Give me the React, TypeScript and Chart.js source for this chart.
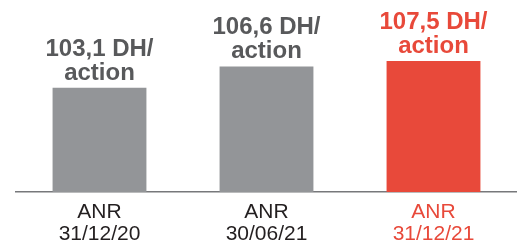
import React, { useEffect, useRef } from "react";
import { Chart, registerables } from "chart.js";

Chart.register(...registerables);

const categoryLines: string[][] = [
  ["ANR", "31/12/20"],
  ["ANR", "30/06/21"],
  ["ANR", "31/12/21"],
];
const values: number[] = [103.1, 106.6, 107.5];
const valueLabels: string[][] = [
  ["103,1 DH/", "action"],
  ["106,6 DH/", "action"],
  ["107,5 DH/", "action"],
];
const barColors: string[] = ["#939598", "#939598", "#e8493a"];
const labelColors: string[] = ["#58595b", "#58595b", "#e8493a"];
const tickColors: string[] = ["#231f20", "#231f20", "#e8493a"];

const FONT = "'Liberation Sans', Arial, Helvetica, sans-serif";

const valueLabelPlugin = {
  id: "valueLabels",
  afterDatasetsDraw(chart: any) {
    const ctx = chart.ctx;
    const meta = chart.getDatasetMeta(0);
    ctx.save();
    ctx.font = `bold 24px ${FONT}`;
    ctx.textAlign = "center";
    ctx.textBaseline = "alphabetic";
    meta.data.forEach((bar: any, i: number) => {
      ctx.fillStyle = labelColors[i];
      const lines = valueLabels[i];
      ctx.fillText(lines[0], bar.x, bar.y - 32);
      ctx.fillText(lines[1], bar.x, bar.y - 8);
    });
    ctx.restore();
  },
};

export default function App() {
  const canvasRef = useRef<HTMLCanvasElement | null>(null);

  useEffect(() => {
    if (!canvasRef.current) return;
    const chart = new Chart(canvasRef.current, {
      type: "bar",
      data: {
        labels: categoryLines,
        datasets: [
          {
            data: values,
            backgroundColor: barColors,
            borderWidth: 0,
            barPercentage: 0.562,
            categoryPercentage: 1,
          },
        ],
      },
      options: {
        animation: false,
        responsive: true,
        maintainAspectRatio: false,
        layout: { padding: { left: 16, right: 0, top: 0, bottom: 0 } },
        plugins: {
          legend: { display: false },
          tooltip: { enabled: false },
        },
        scales: {
          x: {
            grid: { display: false, drawTicks: false },
            border: { display: true, color: "#77787b", width: 1.5 },
            ticks: {
              padding: 9,
              maxRotation: 0,
              autoSkip: false,
              font: { family: FONT, size: 21, lineHeight: 22 / 21 },
              color: (c: any) => tickColors[c.index] ?? "#231f20",
            },
            afterFit: (scale: any) => {
              scale.height = 48;
            },
          },
          y: {
            display: false,
            min: 86,
            max: 117.5,
          },
        },
      },
      plugins: [valueLabelPlugin],
    });
    return () => chart.destroy();
  }, []);

  return (
    <div
      style={{
        position: "absolute",
        left: 0,
        top: 0,
        width: 517,
        height: 240,
        background: "#ffffff",
      }}
    >
      <canvas ref={canvasRef} />
    </div>
  );
}
